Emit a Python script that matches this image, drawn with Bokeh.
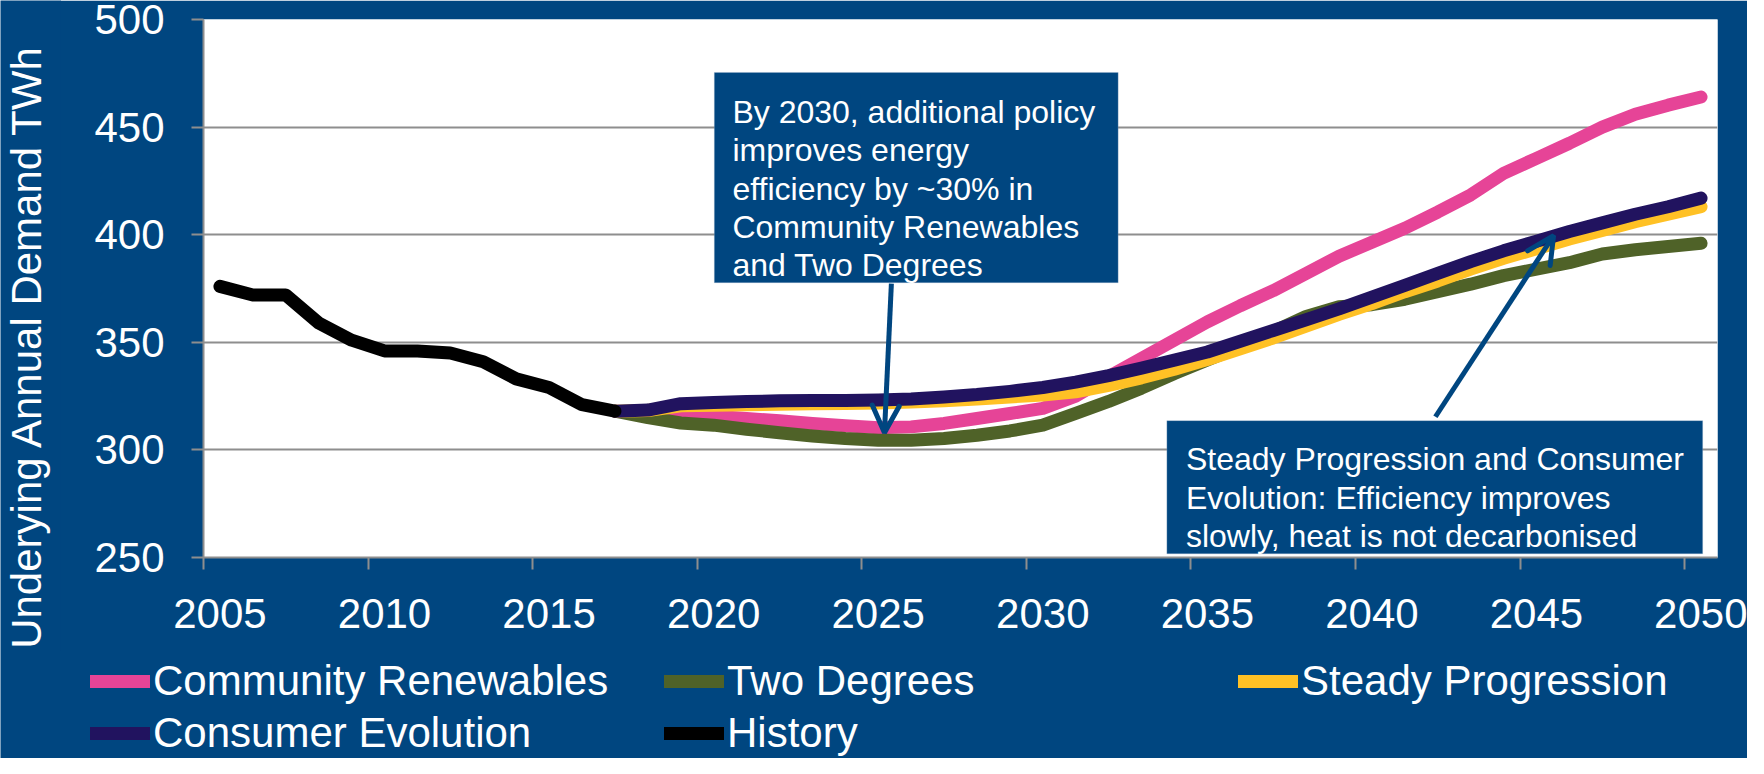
from bokeh.plotting import figure
from bokeh.layouts import row, column
from bokeh.models import (Range1d, LinearAxis, FixedTicker, Legend, LegendItem, Label,
                          BoxAnnotation, Arrow, OpenHead)
from bokeh.embed import file_html
from bokeh.resources import INLINE

# ---------------- data ----------------
history_years = list(range(2005, 2018))
history = [376, 372, 372, 359, 351, 346, 346, 345, 341, 333, 329, 321, 318]

scenario_years = list(range(2017, 2051))
community_renewables = [318, 317.3, 316.8, 315.7, 314.6, 313.5, 312.3, 311.2, 310.3, 310.7,
                        312.3, 314.6, 316.9, 319.3,
                        325, 334, 342.5, 351, 359.5, 367, 374, 382, 390, 396.5,
                        403, 410.5, 418.5, 428.5, 435.5, 442.5, 450, 456, 460.2, 464]
two_degrees = [318, 315, 312.5, 311.5, 309.6, 308, 306.5, 305.3, 304.5, 304.5,
               305.3, 306.8, 308.8, 311.5,
               317, 322.5, 328.7, 335.5, 341.8, 348, 355, 362, 366.5, 367.5,
               370, 373.5, 377, 381, 384, 387, 391, 393, 394.5, 396]
steady_progression = [318, 318.3, 320.5, 320.8, 321, 321.2, 321.4, 321.6, 321.8, 322.2,
                      322.8, 323.6, 324.6, 325.5,
                      327, 330, 333.5, 337.5, 342, 347, 352, 357.5, 363, 368,
                      373.5, 378.5, 384, 389, 393.5, 398, 402, 406, 409.5, 413]
consumer_evolution = [318, 318.5, 321.5, 322, 322.5, 322.8, 323, 323, 323.2, 323.7,
                      324.6, 325.7, 327.2, 329,
                      331.5, 334.5, 338, 341.7, 345.5, 350.5, 355.5, 360.5, 365.5, 371,
                      376.5, 382, 387.5, 392.5, 397, 401.5, 405.5, 409.5, 413, 417]

series_names = ["Community Renewables", "Two Degrees", "Steady Progression",
                "Consumer Evolution", "History"]

label_years = [2005, 2010, 2015, 2020, 2025, 2030, 2035, 2040, 2045, 2050]
y_ticks = [250, 300, 350, 400, 450, 500]
y_title = "Underying Annual Demand TWh"

note_1 = ["By 2030, additional policy", "improves energy", "efficiency by ~30% in",
          "Community Renewables", "and Two Degrees"]
note_2 = ["Steady Progression and Consumer", "Evolution: Efficiency improves",
          "slowly, heat is not decarbonised"]

# ---------------- style ----------------
BLUE = "#004680"
GRAY = "#8E8E8E"
FONT = "Liberation Sans"
COLORS = {"Community Renewables": "#E64497", "Two Degrees": "#4F6228",
          "Steady Progression": "#FFC125", "Consumer Evolution": "#21135F",
          "History": "#000000"}
LW = 13

TITLE_W = 61          # 1px is overlapped by the chart and legend strips
MAIN_W = 1688
MAIN_H = 651          # 1px is overlapped by the legend strip
LEG_H = 108
TOTAL_H = MAIN_H + LEG_H - 1

series_x = [scenario_years, scenario_years, scenario_years, scenario_years, history_years]
series_y = [community_renewables, two_degrees, steady_progression, consumer_evolution, history]

# ---------------- y title strip ----------------
tf = figure(width=TITLE_W, height=TOTAL_H, x_range=Range1d(0, TITLE_W),
            y_range=Range1d(0, TOTAL_H), x_axis_type=None, y_axis_type=None,
            output_backend="svg", toolbar_location=None, min_border=0,
            background_fill_color=BLUE, border_fill_color=BLUE, outline_line_color=None)
tf.frame_align = False
tf.add_layout(Label(x=26, y=TOTAL_H - 346, text=y_title, angle=90, angle_units="deg",
                    text_align="center", text_baseline="middle", text_font=FONT,
                    text_font_size="42px", text_color="white"))

# ---------------- main chart ----------------
p = figure(width=MAIN_W, height=MAIN_H,
           x_range=Range1d(2004.5, 2050.5), y_range=Range1d(250, 500),
           output_backend="svg", toolbar_location=None, x_axis_type=None,
           min_border_left=143, min_border_right=30, min_border_top=19,
           min_border_bottom=MAIN_H - 557,
           background_fill_color="white", border_fill_color=BLUE, outline_line_color=None)
p.frame_align = False
p.margin = (0, 0, 0, -1)

yax = p.yaxis[0]
yax.ticker = FixedTicker(ticks=y_ticks)
yax.major_tick_out = 12
yax.major_tick_in = 0
yax.minor_tick_out = 0
yax.minor_tick_in = 0
yax.major_tick_line_color = GRAY
yax.major_tick_line_width = 2
yax.axis_line_color = GRAY
yax.axis_line_width = 2
yax.major_label_standoff = 27
yax.major_label_text_font = FONT
yax.major_label_text_font_size = "42px"
yax.major_label_text_color = "white"

p.ygrid.ticker = FixedTicker(ticks=y_ticks)
p.ygrid.grid_line_color = GRAY
p.ygrid.grid_line_width = 2

# category axis: labels at the years, tick marks between categories (minor ticks)
xax = LinearAxis(ticker=FixedTicker(ticks=label_years,
                                    minor_ticks=[yr - 0.5 for yr in label_years]),
                 major_tick_out=0, major_tick_in=0,
                 minor_tick_out=12, minor_tick_in=0,
                 minor_tick_line_color=GRAY, minor_tick_line_width=2,
                 axis_line_color=GRAY, axis_line_width=2,
                 major_label_standoff=29,
                 major_label_text_font=FONT, major_label_text_font_size="42px",
                 major_label_text_color="white")
p.add_layout(xax, "below")

for name, xs, ys in zip(series_names, series_x, series_y):
    p.line(xs, ys, line_color=COLORS[name], line_width=LW,
           line_cap="round", line_join="round")

# annotation boxes
for l, r, t, b in [(2020.02, 2032.29, 475.4, 377.7), (2033.77, 2050.05, 313.6, 251.7)]:
    p.add_layout(BoxAnnotation(left=l, right=r, top=t, bottom=b, fill_color=BLUE,
                               fill_alpha=1, line_color="#A3B6CC", line_width=1))

for i, line in enumerate(note_1):
    p.add_layout(Label(x=2020.57, y=456.95 - i * 17.8, text=line, text_font=FONT,
                       text_font_size="32px", text_color="white",
                       text_align="left", text_baseline="alphabetic"))
for i, line in enumerate(note_2):
    p.add_layout(Label(x=2034.35, y=295.6 - i * 17.8, text=line, text_font=FONT,
                       text_font_size="32px", text_color="white",
                       text_align="left", text_baseline="alphabetic"))

for xs, ys, xe, ye in [(2025.4, 377.3, 2025.19, 308.0), (2041.93, 315.4, 2045.52, 399.6)]:
    p.add_layout(Arrow(end=OpenHead(size=27, line_color=BLUE, line_width=5, line_cap="round"),
                       x_start=xs, y_start=ys, x_end=xe, y_end=ye,
                       line_color=BLUE, line_width=5))

# ---------------- legend strip ----------------
# (the same series are drawn here again, far outside this strip's visible ranges,
#  only so that the legend can show their line styles)
lf = figure(width=MAIN_W, height=LEG_H, x_range=Range1d(0, MAIN_W), y_range=Range1d(0, LEG_H),
            x_axis_type=None, y_axis_type=None, output_backend="svg",
            toolbar_location=None, min_border=0,
            background_fill_color=BLUE, border_fill_color=BLUE, outline_line_color=None)
lf.frame_align = False
lf.margin = (-1, 0, 0, -1)
leg_r = {}
for name, xs, ys in zip(series_names, series_x, series_y):
    leg_r[name] = lf.line(xs, ys, line_color=COLORS[name], line_width=LW,
                          line_cap="round", line_join="round")

legend = Legend(items=[LegendItem(label=n, renderers=[leg_r[n]]) for n in series_names],
                orientation="horizontal", ncols=3, location=(30, 0),
                glyph_width=60, glyph_height=50, label_height=50, label_width=509,
                label_standoff=3, spacing=2, padding=0, margin=0,
                label_text_font=FONT, label_text_font_size="42px", label_text_color="white",
                background_fill_alpha=0, border_line_alpha=0)
lf.add_layout(legend)

layout = row(tf, column(p, lf))
open("out.html", "w").write(file_html(layout, INLINE))
